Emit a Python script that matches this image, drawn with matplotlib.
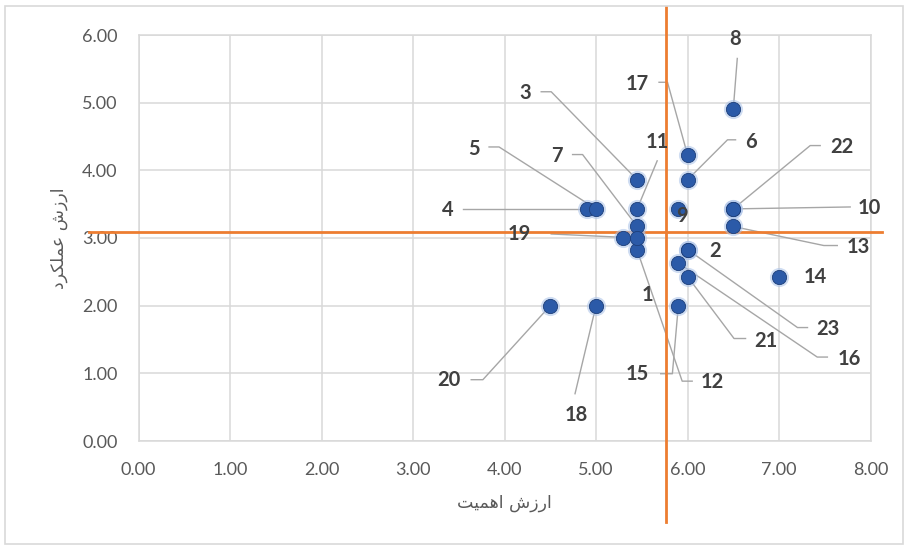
import matplotlib
matplotlib.use("Agg")
import matplotlib.pyplot as plt
from matplotlib.lines import Line2D
from matplotlib.patches import Rectangle
from matplotlib.transforms import Affine2D, ScaledTranslation

# Survey items: importance (x) and performance (y) scores
item_ids = [str(i) for i in range(1, 24)]
importance = [5.30, 6.00, 5.45, 4.90, 5.00, 6.00, 5.45, 6.50, 5.90, 6.50,
              5.45, 5.45, 6.50, 7.00, 5.90, 5.90, 6.00, 5.00, 5.45, 4.50,
              6.00, 6.50, 6.00]
performance = [3.00, 2.83, 3.86, 3.43, 3.43, 3.86, 3.17, 4.90, 3.43, 3.43,
               3.43, 2.82, 3.17, 2.43, 2.00, 2.63, 4.23, 2.00, 3.00, 2.00,
               2.43, 3.43, 2.83]

# Quadrant dividers (average importance / average performance)
importance_cut = 5.76
performance_cut = 3.09
vline_span = (-1.19, 6.42)
hline_span = (-0.54, 8.13)

x_ticks = [0, 1, 2, 3, 4, 5, 6, 7, 8]
y_ticks = [0, 1, 2, 3, 4, 5, 6]

# Axis titles written in visual order with Arabic presentation forms
x_title = "\uFE96\uFEF4\uFEE4\uFEEB\uFE8D \uFEB5\uFEAF\uFEAD\uFE8D"      # ارزش اهمیت
y_title = "\uFEA9\uFEAE\uFB91\uFEE0\uFEE4\uFECB \uFEB5\uFEAF\uFEAD\uFE8D"  # ارزش عملکرد

# Label placement: text offset and leader-line vertices, in points from the marker
label_offset = {
    "1": (17.3, -41), "2": (20.2, -1.2), "3": (-80.6, 62.6), "4": (-100, -0.7),
    "5": (-87.8, 43.2), "6": (45.4, 27.4), "7": (-57.6, 50.4), "8": (1.4, 50.8),
    "9": (2.9, -5), "10": (97.6, 0.7), "11": (14.4, 48.2), "12": (54, -95),
    "13": (90.4, -14.8), "14": (26.2, 0), "15": (-29.5, -49.4), "16": (122.9, -68.8),
    "17": (-36, 51.1), "18": (-14.4, -78.9), "19": (-85, 2.9), "20": (-72.7, -53.7),
    "21": (56.2, -46.1), "22": (78.5, 44.6), "23": (101.2, -56.9),
}
leader_path = {
    "3": [(-69.1, 63.4), (-61.9, 63.4)],
    "4": [(-89.3, 0)],
    "5": [(-77, 44.6), (-69.8, 44.6)],
    "6": [(34.6, 28.8), (28.8, 28.8)],
    "7": [(-46.5, 51.8), (-39.3, 51.8)],
    "8": [(2.9, 36.7)],
    "10": [(84.2, 1.4)],
    "11": [(14.4, 34.6)],
    "12": [(39.6, -94.3), (32.4, -94.3)],
    "13": [(74.9, -13.7), (65.2, -13.7)],
    "15": [(-12.7, -49), (-4.3, -49)],
    "16": [(107.3, -67.7), (100, -67.7)],
    "17": [(-20.5, 52.2), (-14.4, 52.2)],
    "18": [(-15.1, -63.4)],
    "19": [(-61.9, 2.9)],
    "20": [(-56.9, -53.3), (-48.5, -53.3)],
    "21": [(41.8, -44.6), (33.5, -44.6)],
    "22": [(62.6, 45.6), (55.4, 45.6)],
    "23": [(86.4, -56.2), (79.2, -56.2)],
}

W, H, DPI = 908, 549, 100
fig = plt.figure(figsize=(W / DPI, H / DPI), dpi=DPI, facecolor="white")
ax = fig.add_axes([138.5 / W, 1 - 441 / H, (870.5 - 138.5) / W, (441 - 35) / H])

# chart frame
fig.patches.append(Rectangle((5 / W, 1 - 544 / H), 898 / W, 538 / H,
                             transform=fig.transFigure, fill=False,
                             edgecolor="#D9D9D9", linewidth=1.2))

ax.set_xlim(0, 8)
ax.set_ylim(0, 6)
ax.set_xticks(x_ticks)
ax.set_yticks(y_ticks)
ax.xaxis.set_major_formatter(matplotlib.ticker.FormatStrFormatter("%.2f"))
ax.yaxis.set_major_formatter(matplotlib.ticker.FormatStrFormatter("%.2f"))
ax.grid(True, color="#D9D9D9", linewidth=1.1)
ax.set_axisbelow(True)
for sp in ax.spines.values():
    sp.set_color("#D9D9D9")
    sp.set_linewidth(1.1)
ax.tick_params(length=0, labelsize=13, labelcolor="#595959")
ax.tick_params(axis="x", pad=15)
ax.tick_params(axis="y", pad=15)
for t in ax.get_xticklabels() + ax.get_yticklabels():
    t.set_fontfamily("Lato")

ax.set_xlabel(x_title, fontsize=12.5, color="#595959", family="DejaVu Sans", labelpad=12)
ax.set_ylabel(y_title, fontsize=12.5, color="#595959", family="DejaVu Sans", labelpad=10)

# quadrant lines
ax.plot([importance_cut, importance_cut], vline_span, color="#ED7D31", lw=2.0,
        clip_on=False, zorder=4)
ax.plot(hline_span, [performance_cut, performance_cut], color="#ED7D31", lw=2.0,
        clip_on=False, zorder=4)


def pts_transform(x, y):
    return (Affine2D().scale(1 / 72) + fig.dpi_scale_trans
            + ScaledTranslation(x, y, ax.transData))


for lab, x, y in zip(item_ids, importance, performance):
    if lab in leader_path:
        verts = leader_path[lab] + [(0, 0)]
        line = Line2D([v[0] for v in verts], [v[1] for v in verts],
                      color="#A6A6A6", lw=1.0, transform=pts_transform(x, y),
                      clip_on=False, zorder=3)
        ax.add_artist(line)
    dx, dy = label_offset[lab]
    ax.annotate(lab, xy=(x, y), xytext=(dx, dy), textcoords="offset points",
                ha="center", va="center", fontsize=14.5, fontweight="bold",
                color="#404040", family="Lato", zorder=6)

# markers with soft halo
ax.scatter(importance, performance, s=190, color="#A9C1E8", alpha=0.55,
           linewidths=0, zorder=5)
ax.scatter(importance, performance, s=105, color="#2B5AA8",
           edgecolors="#1E3F7A", linewidths=0.6, zorder=5)

fig.savefig("out.png", dpi=DPI, facecolor="white")
